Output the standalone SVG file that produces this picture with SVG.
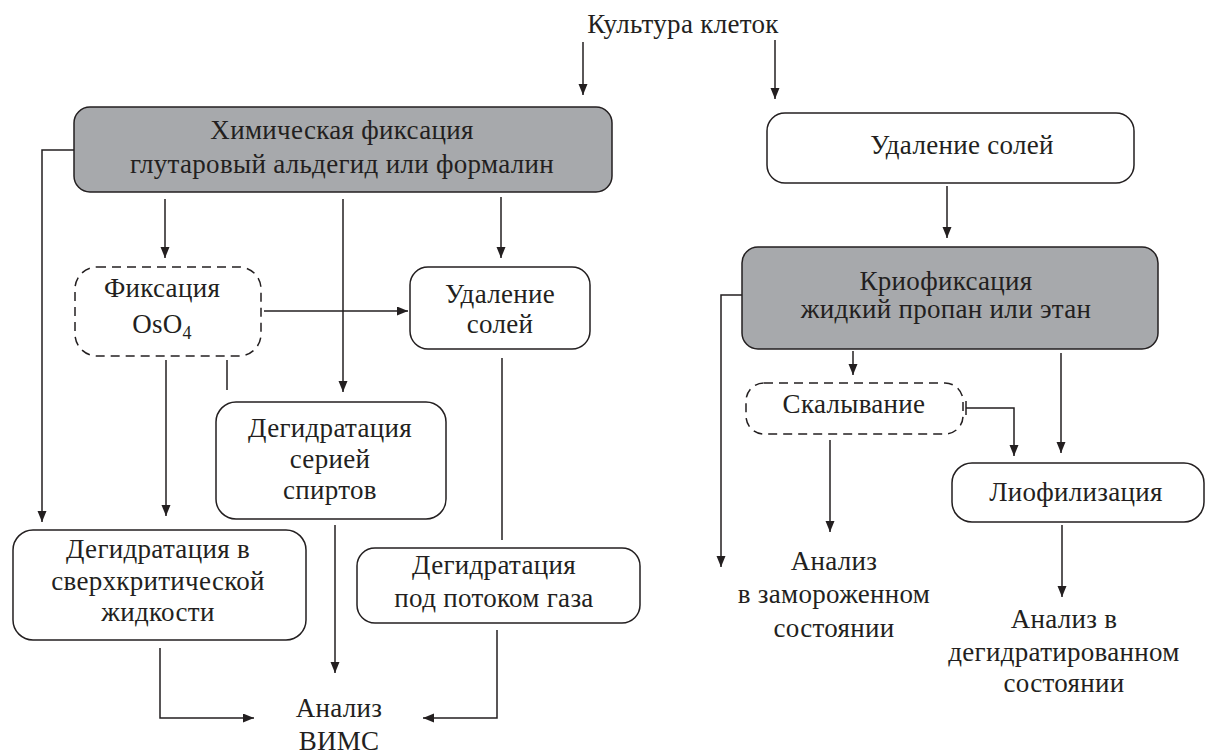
<svg xmlns="http://www.w3.org/2000/svg" width="1205" height="754" viewBox="0 0 1205 754">
<defs>
<marker id="arr" markerUnits="userSpaceOnUse" markerWidth="12" markerHeight="10" refX="11" refY="4.5" orient="auto">
<path d="M0,0 L11,4.5 L0,9 z" fill="#231f20"/>
</marker>
<marker id="bar" markerUnits="userSpaceOnUse" markerWidth="4" markerHeight="14" refX="1" refY="7" orient="auto">
<path d="M1,0 V14" stroke="#231f20" stroke-width="1.5"/>
</marker>
</defs>
<style>
text{font-family:"Liberation Serif","DejaVu Serif",serif;font-size:27px;letter-spacing:0.3px;fill:#231f20;text-anchor:middle}
.box{fill:#fff;stroke:#231f20;stroke-width:1.5}
.gray{fill:#a7a9ac;stroke:#231f20;stroke-width:1.5}
.dash{fill:#fff;stroke:#231f20;stroke-width:1.5;stroke-dasharray:9 6}
#connectors path{fill:none;stroke:#231f20;stroke-width:1.5}
.a{marker-end:url(#arr)}
</style>
<rect width="1205" height="754" fill="#fff"/>

<g id="connectors">
<path class="a" d="M583,42 V95"/>
<path class="a" d="M775,40 V99"/>
<path class="a" d="M74,150 H42 V522"/>
<path class="a" d="M165,199 V258"/>
<path class="a" d="M343,199 V392"/>
<path class="a" d="M501,197 V258"/>
<path class="a" d="M264,311 H408"/>
<path class="a" d="M166,360 V516"/>
<path d="M227,360 V390"/>
<path d="M502,358 V540"/>
<path class="a" d="M335,525 V673"/>
<path class="a" d="M160,648 V718 H254"/>
<path class="a" d="M497,630 V718 H423"/>
<path class="a" d="M947,186 V238"/>
<path class="a" d="M742,295 H721 V567"/>
<path class="a" d="M853,351 V375"/>
<path class="a" d="M1061,353 V453"/>
<path class="a" d="M966,408 H1014 V456" marker-start="url(#bar)"/>
<path class="a" d="M830,440 V532"/>
<path class="a" d="M1062,525 V597"/>
</g>

<g id="culture"><text x="683" y="33">Культура клеток</text></g>

<g id="chem">
<rect class="gray" x="74" y="107" width="538" height="85" rx="16"/>
<text x="342" y="139">Химическая фиксация</text>
<text x="342" y="173">глутаровый альдегид или формалин</text>
</g>

<g id="osfix">
<rect class="dash" x="75" y="267" width="186" height="89" rx="22"/>
<text x="162" y="297">Фиксация</text>
<text x="162" y="333">OsO<tspan font-size="18" dy="6">4</tspan></text>
</g>

<g id="desalt1">
<rect class="box" x="410" y="267" width="180" height="82" rx="18"/>
<text x="500" y="303">Удаление</text>
<text x="500" y="333">солей</text>
</g>

<g id="alcohol">
<rect class="box" x="216" y="402" width="230" height="117" rx="20"/>
<text x="330" y="437">Дегидратация</text>
<text x="330" y="468">серией</text>
<text x="330" y="499">спиртов</text>
</g>

<g id="supercrit">
<rect class="box" x="13" y="530" width="293" height="110" rx="20"/>
<text x="158" y="558">Дегидратация в</text>
<text x="158" y="590">сверхкритической</text>
<text x="158" y="621">жидкости</text>
</g>

<g id="gasflow">
<rect class="box" x="357" y="548" width="283" height="75" rx="18"/>
<text x="494" y="574">Дегидратация</text>
<text x="494" y="607">под потоком газа</text>
</g>

<g id="sims">
<text x="339" y="717">Анализ</text>
<text x="339" y="750">ВИМС</text>
</g>

<g id="desalt2">
<rect class="box" x="767" y="113" width="367" height="70" rx="18"/>
<text x="962" y="154">Удаление солей</text>
</g>

<g id="cryo">
<rect class="gray" x="742" y="247" width="416" height="102" rx="16"/>
<text x="946" y="290">Криофиксация</text>
<text x="946" y="318">жидкий пропан или этан</text>
</g>

<g id="fracture">
<rect class="dash" x="746" y="383" width="217" height="51" rx="18"/>
<text x="854" y="413">Скалывание</text>
</g>

<g id="lyo">
<rect class="box" x="952" y="463" width="252" height="59" rx="20"/>
<text x="1076" y="501">Лиофилизация</text>
</g>

<g id="frozen">
<text x="834" y="570">Анализ</text>
<text x="834" y="603">в замороженном</text>
<text x="834" y="637">состоянии</text>
</g>

<g id="dehydrated">
<text x="1064" y="628">Анализ в</text>
<text x="1064" y="661">дегидратированном</text>
<text x="1064" y="692">состоянии</text>
</g>
</svg>
